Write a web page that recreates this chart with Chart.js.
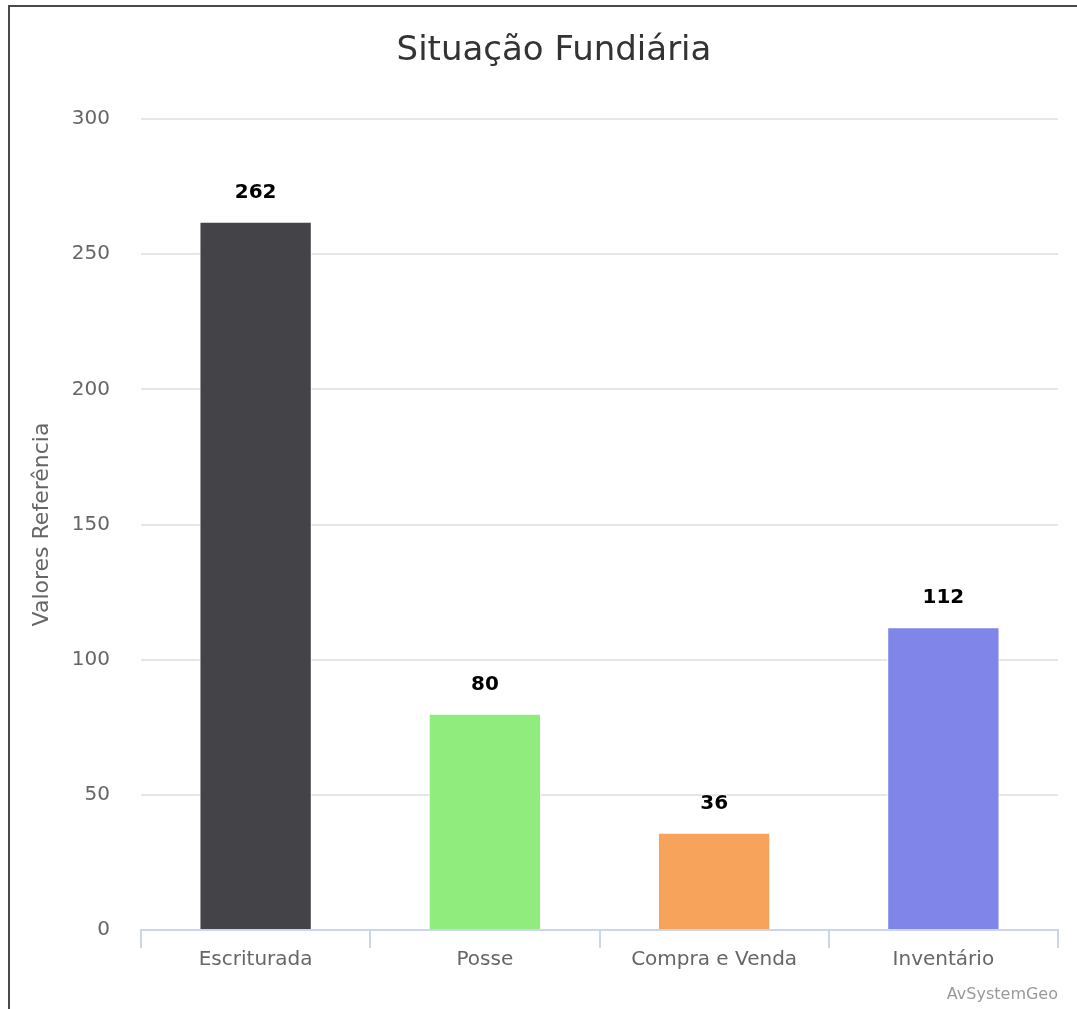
<!DOCTYPE html>
<html>
<head>
<meta charset="utf-8">
<script src="https://cdn.jsdelivr.net/npm/chart.js@4/dist/chart.umd.min.js"></script>
<style>
  html, body { margin: 0; padding: 0; background: #fff; overflow: hidden; }
  #wrap { position: relative; width: 1077px; height: 1009px; }
  #frame { position: absolute; left: 8px; top: 5px; width: 1200px; height: 1200px;
           border-top: 2px solid #4a4a4a; border-left: 2px solid #4a4a4a; box-sizing: border-box; }
  #titulo { position: absolute; left: 8px; width: 1092px; top: 28px; text-align: center;
            font: 34px "DejaVu Sans", sans-serif; color: #333333; }
  #credito { position: absolute; right: 19px; top: 984px;
             font: 16px "DejaVu Sans", sans-serif; color: #999999; }
  canvas { position: absolute; left: 0; top: 0; }
</style>
</head>
<body>
<div id="wrap">
  <div id="frame"></div>
  <canvas id="grafico" width="1077" height="1009"></canvas>
  <div id="titulo">Situação Fundiária</div>
  <div id="credito">AvSystemGeo</div>
</div>
<script>
// dados do gráfico
const categorias = ['Escriturada', 'Posse', 'Compra e Venda', 'Inventário'];
const valores = [262, 80, 36, 112];
const cores = ['#434348', '#90ed7d', '#f7a35c', '#8085e9'];
const yMin = 0;
const yMax = 300;
const yPasso = 50;

const fonte = '"DejaVu Sans", sans-serif';

// rótulos com o valor acima de cada coluna
const rotulosValor = {
    id: 'rotulosValor',
    afterDatasetsDraw(chart) {
        const ctx = chart.ctx;
        const meta = chart.getDatasetMeta(0);
        ctx.save();
        ctx.font = 'bold 20px ' + fonte;
        ctx.textAlign = 'center';
        ctx.textBaseline = 'middle';
        ctx.lineJoin = 'round';
        ctx.lineWidth = 2;
        ctx.strokeStyle = '#ffffff';
        ctx.fillStyle = '#000000';
        meta.data.forEach((barra, i) => {
            const txt = String(valores[i]);
            ctx.strokeText(txt, barra.x, barra.y - 29);
            ctx.fillText(txt, barra.x, barra.y - 29);
        });
        ctx.restore();
    }
};

const ctx = document.getElementById('grafico').getContext('2d');
new Chart(ctx, {
    type: 'bar',
    data: {
        labels: categorias,
        datasets: [{
            data: valores,
            backgroundColor: cores,
            borderColor: '#ffffff',
            borderWidth: 1,
            categoryPercentage: 1,
            barPercentage: 0.49
        }]
    },
    options: {
        responsive: false,
        animation: false,
        layout: { padding: { top: 119, left: 29, right: 19, bottom: 0 } },
        plugins: {
            legend: { display: false },
            tooltip: { enabled: false },
            title: { display: false }
        },
        scales: {
            x: {
                afterFit: (s) => { s.height = 79; },
                grid: {
                    offset: true,
                    drawOnChartArea: false,
                    drawTicks: true,
                    tickLength: 18,
                    lineWidth: 2,
                    color: '#ccd6eb'
                },
                border: { display: true, color: '#ccd6eb', width: 2 },
                ticks: {
                    padding: 0,
                    color: '#666666',
                    font: { family: fonte, size: 20 }
                }
            },
            y: {
                min: yMin,
                max: yMax,
                afterFit: (s) => { s.width = 112; },
                grid: { color: '#e6e6e6', lineWidth: 2, drawTicks: false },
                border: { display: false },
                ticks: {
                    stepSize: yPasso,
                    padding: 31,
                    color: '#666666',
                    font: { family: fonte, size: 20 }
                },
                title: {
                    display: true,
                    text: 'Valores Referência',
                    color: '#666666',
                    padding: { top: 0, bottom: 0 },
                    font: { family: fonte, size: 22 }
                }
            }
        }
    },
    plugins: [rotulosValor]
});
</script>
</body>
</html>
